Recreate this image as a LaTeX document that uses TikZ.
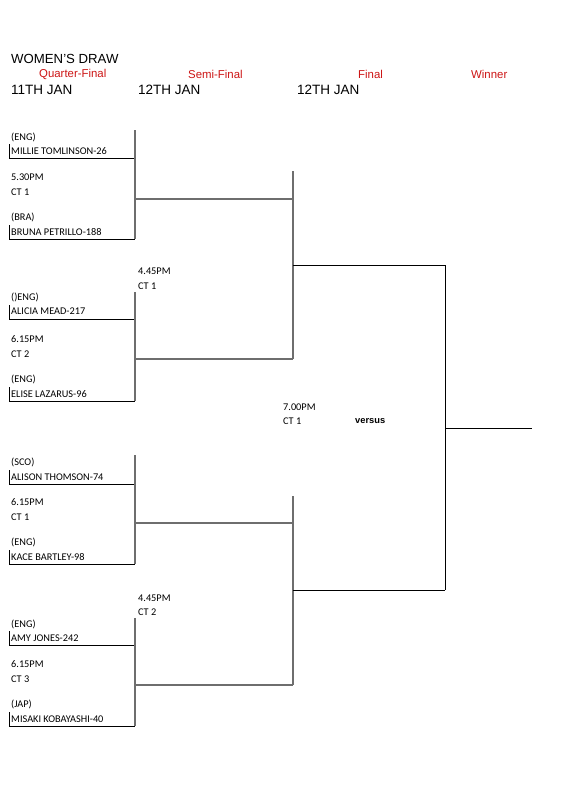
\documentclass[tikz,border=0pt]{standalone}
\usepackage{fontspec}
\setmainfont{Liberation Sans}
\newfontfamily\carlitofont{Carlito}
\definecolor{hdrred}{RGB}{204,20,20}
\definecolor{linegray}{RGB}{110,110,110}
\begin{document}
\begin{tikzpicture}[x=1pt,y=-1pt,
  title/.style={anchor=west,inner sep=0pt,font=\fontsize{13.2}{15}\selectfont},
  round/.style={anchor=west,inner sep=0pt,text=hdrred,font=\fontsize{11.4}{13}\selectfont},
  date/.style={anchor=west,inner sep=0pt,font=\fontsize{13.5}{15}\selectfont},
  lbl/.style={anchor=west,inner sep=0pt,font=\carlitofont\fontsize{10.3}{12}\selectfont},
  bold/.style={anchor=west,inner sep=0pt,font=\bfseries\fontsize{9.3}{11}\selectfont},
  vline/.style={draw=linegray,line width=1.3pt},
  hline/.style={draw=linegray,line width=1.3pt},
  uline/.style={draw=black,line width=0.8pt},
  fline/.style={draw=black,line width=1pt}]
\useasboundingbox (0,0) rectangle (560,792);
% headers
\node[title] (t) at (11,59) {WOMEN'S DRAW};
\node[round] (r1) at (39,74) {Quarter-Final};
\node[round] (r2) at (188,74) {Semi-Final};
\node[round] (r3) at (358,74) {Final};
\node[round] (r4) at (471,74) {Winner};
\node[date] (d1) at (11,90) {11TH JAN};
\node[date] (d2) at (138,90) {12TH JAN};
\node[date] (d3) at (297,90) {12TH JAN};
% QF match 1
\node[lbl] (c1) at (11,137) {(ENG)};
\node[lbl] (p1) at (11,151) {MILLIE TOMLINSON-26};
\node[lbl] (m1a) at (11,177) {5.30PM};
\node[lbl] (m1b) at (11,192) {CT 1};
\node[lbl] (c2) at (11,217) {(BRA)};
\node[lbl] (p2) at (11,232) {BRUNA PETRILLO-188};
% QF match 2
\node[lbl] (s1a) at (138,271) {4.45PM};
\node[lbl] (s1b) at (138,286) {CT 1};
\node[lbl] (c3) at (11,297) {()ENG)};
\node[lbl] (p3) at (11,311) {ALICIA MEAD-217};
\node[lbl] (m2a) at (11,339) {6.15PM};
\node[lbl] (m2b) at (11,354) {CT 2};
\node[lbl] (c4) at (11,379) {(ENG)};
\node[lbl] (p4) at (11,394) {ELISE LAZARUS-96};
% final
\node[lbl] (fa) at (283,407) {7.00PM};
\node[lbl] (fb) at (283,421) {CT 1};
\node[bold] (vs) at (355,421) {versus};
% QF match 3
\node[lbl] (c5) at (11,462) {(SCO)};
\node[lbl] (p5) at (11,477) {ALISON THOMSON-74};
\node[lbl] (m3a) at (11,502) {6.15PM};
\node[lbl] (m3b) at (11,517) {CT 1};
\node[lbl] (c6) at (11,542) {(ENG)};
\node[lbl] (p6) at (11,557) {KACE BARTLEY-98};
% QF match 4
\node[lbl] (s2a) at (138,598) {4.45PM};
\node[lbl] (s2b) at (138,612) {CT 2};
\node[lbl] (c7) at (11,624) {(ENG)};
\node[lbl] (p7) at (11,638) {AMY JONES-242};
\node[lbl] (m4a) at (11,664) {6.15PM};
\node[lbl] (m4b) at (11,679) {CT 3};
\node[lbl] (c8) at (11,704) {(JAP)};
\node[lbl] (p8) at (11,719) {MISAKI KOBAYASHI-40};
% coordinates of bracket
\foreach \n/\y in {1/158,2/239,3/319,4/401,5/484,6/564,7/645,8/726}{
  \coordinate (ul\n) at (9,\y);
  \coordinate (ur\n) at (135,\y);
  \coordinate (ut\n) at (9,\y-14);
}
\coordinate (q1t) at (135,130); \coordinate (q1m) at (135,199);
\coordinate (q2t) at (135,292); \coordinate (q2m) at (135,359);
\coordinate (q3t) at (135,455); \coordinate (q3m) at (135,523);
\coordinate (q4t) at (135,618); \coordinate (q4m) at (135,685);
\coordinate (s1t) at (293,171); \coordinate (s1m) at (293,199); \coordinate (s1e) at (293,359); \coordinate (s1c) at (293,265);
\coordinate (s2t) at (293,496); \coordinate (s2m) at (293,523); \coordinate (s2e) at (293,685); \coordinate (s2c) at (293,590);
\coordinate (ft) at (445,265); \coordinate (fbt) at (445,590); \coordinate (fm) at (445,428);
\coordinate (w) at (532,428);
% name underlines and ticks
\foreach \n in {1,...,8}{
  \draw[uline] (ut\n) -- (ul\n) -- (ur\n);
}
% QF verticals
\draw[vline] (q1t) -- (ur2);
\draw[vline] (q2t) -- (ur4);
\draw[vline] (q3t) -- (ur6);
\draw[vline] (q4t) -- (ur8);
% QF to SF horizontals
\draw[hline] (q1m) -- (s1m);
\draw[hline] (q2m) -- (s1e);
\draw[hline] (q3m) -- (s2m);
\draw[hline] (q4m) -- (s2e);
% SF verticals
\draw[vline] (s1t) -- (s1e);
\draw[vline] (s2t) -- (s2e);
% SF to final
\draw[fline] (s1c) -- (ft);
\draw[fline] (s2c) -- (fbt);
\draw[fline] (ft) -- (fbt);
\draw[fline] (fm) -- (w);
\end{tikzpicture}
\end{document}
